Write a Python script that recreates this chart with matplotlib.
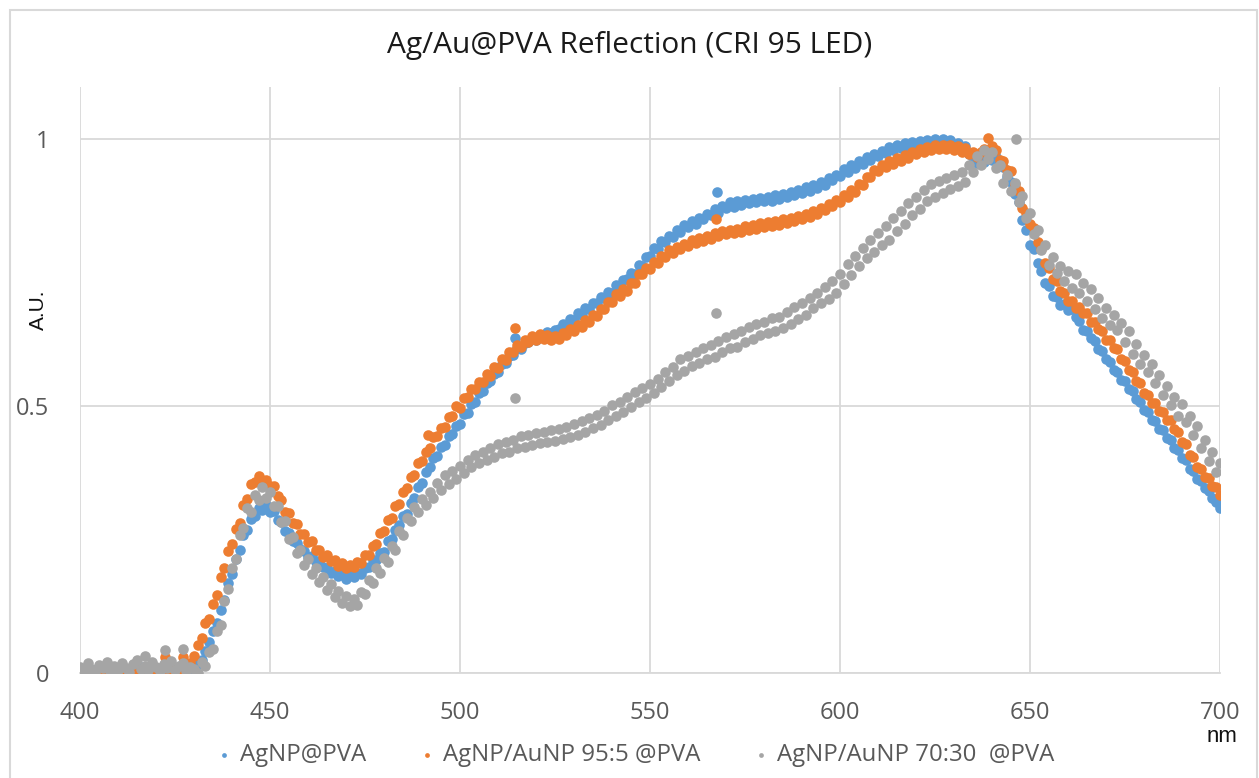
import matplotlib
matplotlib.use("Agg")
import matplotlib.pyplot as plt
import numpy as np
from matplotlib.patches import Rectangle

# ---------------- data ----------------
wavelength_start = 400
wavelength_end = 700

agnp = [
    0.008, 0.003, 0.010, 0.002, 0.006, 0.001, 0.009, 0.004, 0.000, 0.007,
    0.003, 0.010, 0.005, 0.001, 0.008, 0.004, 0.011, 0.002, 0.006, 0.003,
    0.009, 0.004, 0.001, 0.007, 0.012, 0.003, 0.008, 0.005, 0.010, 0.006,
    0.011, 0.016, 0.024, 0.042, 0.058, 0.079, 0.094, 0.118, 0.137, 0.168,
    0.186, 0.214, 0.231, 0.258, 0.268, 0.289, 0.293, 0.309, 0.306, 0.315,
    0.301, 0.304, 0.286, 0.283, 0.266, 0.262, 0.247, 0.243, 0.232, 0.228,
    0.218, 0.219, 0.207, 0.209, 0.198, 0.197, 0.188, 0.191, 0.181, 0.186,
    0.176, 0.184, 0.179, 0.188, 0.186, 0.196, 0.198, 0.211, 0.212, 0.224,
    0.227, 0.247, 0.251, 0.268, 0.277, 0.293, 0.298, 0.318, 0.327, 0.348,
    0.356, 0.377, 0.386, 0.402, 0.406, 0.423, 0.427, 0.444, 0.447, 0.463,
    0.466, 0.484, 0.486, 0.503, 0.507, 0.524, 0.527, 0.543, 0.546, 0.559,
    0.563, 0.578, 0.581, 0.593, 0.596, 0.608, 0.607, 0.617, 0.619, 0.627,
    0.624, 0.633, 0.629, 0.638, 0.636, 0.643, 0.644, 0.653, 0.652, 0.663,
    0.661, 0.673, 0.671, 0.683, 0.681, 0.693, 0.692, 0.704, 0.702, 0.714,
    0.711, 0.727, 0.722, 0.736, 0.738, 0.748, 0.747, 0.763, 0.762, 0.778,
    0.781, 0.795, 0.793, 0.808, 0.806, 0.818, 0.816, 0.829, 0.826, 0.838,
    0.835, 0.846, 0.841, 0.852, 0.849, 0.859, 0.857, 0.868, 0.862, 0.874,
    0.871, 0.881, 0.873, 0.884, 0.876, 0.886, 0.879, 0.887, 0.881, 0.889,
    0.883, 0.891, 0.884, 0.894, 0.887, 0.897, 0.891, 0.901, 0.895, 0.905,
    0.898, 0.909, 0.903, 0.914, 0.908, 0.919, 0.914, 0.926, 0.922, 0.933,
    0.930, 0.943, 0.938, 0.951, 0.946, 0.958, 0.953, 0.966, 0.961, 0.972,
    0.967, 0.978, 0.973, 0.984, 0.979, 0.989, 0.983, 0.992, 0.986, 0.994,
    0.989, 0.996, 0.991, 0.998, 0.992, 0.999, 0.994, 1.000, 0.993, 0.998,
    0.989, 0.993, 0.984, 0.986, 0.972, 0.966, 0.955, 0.958, 0.956, 0.963,
    0.961, 0.966, 0.955, 0.948, 0.928, 0.919, 0.897, 0.881, 0.848, 0.829,
    0.802, 0.793, 0.768, 0.752, 0.731, 0.724, 0.706, 0.703, 0.689, 0.691,
    0.679, 0.682, 0.666, 0.659, 0.643, 0.641, 0.627, 0.622, 0.607, 0.603,
    0.588, 0.583, 0.568, 0.564, 0.549, 0.546, 0.531, 0.527, 0.512, 0.508,
    0.492, 0.488, 0.474, 0.471, 0.457, 0.454, 0.439, 0.437, 0.421, 0.418,
    0.402, 0.398, 0.382, 0.379, 0.363, 0.359, 0.346, 0.341, 0.327, 0.321,
    0.308,
]

agau_95_5 = [
    0.002, 0.006, 0.000, 0.004, 0.001, 0.007, 0.003, 0.000, 0.005, 0.002,
    0.006, 0.001, 0.004, 0.000, 0.003, 0.007, 0.002, 0.005, 0.001, 0.004,
    0.000, 0.006, 0.003, 0.001, 0.005, 0.008, 0.002, 0.012, 0.006, 0.018,
    0.031, 0.052, 0.066, 0.094, 0.101, 0.129, 0.146, 0.179, 0.196, 0.229,
    0.241, 0.269, 0.281, 0.314, 0.326, 0.354, 0.357, 0.368, 0.359, 0.361,
    0.351, 0.351, 0.331, 0.324, 0.301, 0.299, 0.281, 0.279, 0.261, 0.260,
    0.246, 0.247, 0.231, 0.231, 0.218, 0.220, 0.209, 0.211, 0.201, 0.205,
    0.196, 0.203, 0.198, 0.208, 0.206, 0.221, 0.221, 0.238, 0.241, 0.262,
    0.266, 0.286, 0.291, 0.312, 0.316, 0.339, 0.346, 0.366, 0.371, 0.394,
    0.396, 0.414, 0.421, 0.441, 0.443, 0.459, 0.461, 0.479, 0.481, 0.499,
    0.496, 0.514, 0.516, 0.532, 0.531, 0.544, 0.544, 0.559, 0.556, 0.572,
    0.571, 0.587, 0.586, 0.601, 0.601, 0.614, 0.611, 0.624, 0.619, 0.630,
    0.624, 0.634, 0.626, 0.632, 0.623, 0.631, 0.626, 0.637, 0.633, 0.644,
    0.641, 0.652, 0.648, 0.661, 0.658, 0.671, 0.668, 0.682, 0.681, 0.694,
    0.694, 0.709, 0.706, 0.719, 0.716, 0.731, 0.731, 0.746, 0.746, 0.759,
    0.756, 0.769, 0.768, 0.781, 0.778, 0.791, 0.786, 0.797, 0.793, 0.804,
    0.799, 0.810, 0.805, 0.814, 0.808, 0.819, 0.813, 0.824, 0.818, 0.827,
    0.821, 0.830, 0.824, 0.832, 0.825, 0.836, 0.829, 0.839, 0.832, 0.842,
    0.835, 0.844, 0.837, 0.846, 0.839, 0.849, 0.843, 0.852, 0.846, 0.856,
    0.849, 0.859, 0.853, 0.864, 0.859, 0.870, 0.866, 0.878, 0.874, 0.886,
    0.882, 0.894, 0.891, 0.904, 0.901, 0.916, 0.914, 0.929, 0.928, 0.942,
    0.939, 0.951, 0.947, 0.958, 0.953, 0.964, 0.959, 0.970, 0.965, 0.976,
    0.971, 0.981, 0.975, 0.985, 0.979, 0.988, 0.981, 0.989, 0.981, 0.988,
    0.979, 0.986, 0.976, 0.982, 0.971, 0.976, 0.966, 0.975, 0.981, 1.002,
    0.986, 0.979, 0.961, 0.958, 0.941, 0.939, 0.916, 0.903, 0.871, 0.862,
    0.841, 0.833, 0.806, 0.793, 0.768, 0.758, 0.738, 0.733, 0.716, 0.711,
    0.696, 0.697, 0.684, 0.686, 0.674, 0.673, 0.658, 0.658, 0.644, 0.641,
    0.624, 0.623, 0.608, 0.606, 0.588, 0.585, 0.567, 0.563, 0.546, 0.543,
    0.524, 0.521, 0.506, 0.505, 0.490, 0.488, 0.474, 0.473, 0.456, 0.451,
    0.432, 0.428, 0.409, 0.405, 0.386, 0.382, 0.366, 0.365, 0.351, 0.348,
    0.334,
]

agau_70_30 = [
    0.012, 0.004, 0.018, 0.007, 0.000, 0.015, 0.009, 0.021, 0.003, 0.013,
    0.006, 0.019, 0.010, 0.002, 0.016, 0.024, 0.008, 0.014, 0.005, 0.020,
    0.011, 0.003, 0.017, 0.009, 0.022, 0.006, 0.014, 0.019, 0.004, 0.012,
    0.007, 0.000, 0.021, 0.013, 0.039, 0.044, 0.078, 0.089, 0.134, 0.158,
    0.197, 0.214, 0.258, 0.271, 0.309, 0.302, 0.333, 0.323, 0.348, 0.327,
    0.339, 0.313, 0.312, 0.282, 0.284, 0.251, 0.254, 0.224, 0.231, 0.203,
    0.213, 0.186, 0.196, 0.171, 0.180, 0.155, 0.166, 0.142, 0.153, 0.131,
    0.144, 0.125, 0.139, 0.128, 0.151, 0.148, 0.174, 0.168, 0.196, 0.188,
    0.216, 0.208, 0.237, 0.231, 0.266, 0.259, 0.291, 0.284, 0.311, 0.301,
    0.326, 0.314, 0.338, 0.327, 0.356, 0.343, 0.371, 0.354, 0.379, 0.364,
    0.387, 0.374, 0.399, 0.386, 0.409, 0.394, 0.414, 0.399, 0.421, 0.404,
    0.428, 0.411, 0.433, 0.414, 0.437, 0.421, 0.443, 0.424, 0.446, 0.427,
    0.449, 0.431, 0.451, 0.432, 0.455, 0.434, 0.457, 0.438, 0.461, 0.441,
    0.466, 0.446, 0.471, 0.452, 0.477, 0.459, 0.483, 0.465, 0.491, 0.474,
    0.501, 0.482, 0.508, 0.489, 0.517, 0.498, 0.526, 0.507, 0.533, 0.515,
    0.541, 0.524, 0.551, 0.536, 0.563, 0.546, 0.573, 0.557, 0.587, 0.566,
    0.594, 0.574, 0.601, 0.581, 0.609, 0.588, 0.614, 0.592, 0.622, 0.601,
    0.629, 0.608, 0.634, 0.611, 0.641, 0.619, 0.648, 0.626, 0.653, 0.632,
    0.658, 0.637, 0.664, 0.641, 0.667, 0.646, 0.676, 0.654, 0.686, 0.663,
    0.692, 0.671, 0.702, 0.683, 0.711, 0.693, 0.722, 0.701, 0.733, 0.712,
    0.747, 0.729, 0.766, 0.745, 0.781, 0.761, 0.796, 0.776, 0.811, 0.789,
    0.824, 0.801, 0.836, 0.811, 0.851, 0.827, 0.864, 0.841, 0.879, 0.857,
    0.891, 0.869, 0.904, 0.883, 0.915, 0.891, 0.921, 0.899, 0.927, 0.906,
    0.932, 0.911, 0.938, 0.919, 0.951, 0.937, 0.968, 0.951, 0.979, 0.962,
    0.976, 0.945, 0.951, 0.917, 0.933, 0.903, 0.917, 0.881, 0.893, 0.851,
    0.862, 0.822, 0.829, 0.792, 0.801, 0.764, 0.779, 0.748, 0.762, 0.733,
    0.753, 0.721, 0.746, 0.711, 0.731, 0.696, 0.718, 0.681, 0.702, 0.664,
    0.683, 0.651, 0.671, 0.642, 0.655, 0.619, 0.641, 0.597, 0.616, 0.579,
    0.596, 0.564, 0.579, 0.542, 0.557, 0.521, 0.538, 0.502, 0.516, 0.481,
    0.503, 0.469, 0.481, 0.445, 0.462, 0.421, 0.437, 0.397, 0.414, 0.376,
    0.394,
]

# isolated stray points visible in the reference
agnp_extra_x = [514.5, 567.6]
agnp_extra_y = [0.627, 0.900]
agau_95_5_extra_x = [422.4, 427.1, 491.6, 514.5, 567.3]
agau_95_5_extra_y = [0.030, 0.030, 0.446, 0.646, 0.850]
agau_70_30_extra_x = [417.0, 422.4, 427.1, 514.5, 567.3, 646.3]
agau_70_30_extra_y = [0.032, 0.043, 0.044, 0.515, 0.674, 1.000]

series_names = ["AgNP@PVA", "AgNP/AuNP 95:5 @PVA", "AgNP/AuNP 70:30  @PVA"]
x_ticks = [400, 450, 500, 550, 600, 650, 700]
y_ticks = [0, 0.5, 1]
y_tick_labels = ["0", "0.5", "1"]
title = "Ag/Au@PVA Reflection (CRI 95 LED)"

# ---------------- figure ----------------
colors = ["#5B9BD5", "#ED7D31", "#A5A5A5"]
W, H = 1259, 778
fig = plt.figure(figsize=(W / 100, H / 100), dpi=100)
ax = fig.add_axes([80 / W, 1 - 673 / H, (1220 - 80) / W, (673 - 87) / H])

wl = np.arange(wavelength_start, wavelength_end + 1)
all_series = [
    (agnp, agnp_extra_x, agnp_extra_y),
    (agau_95_5, agau_95_5_extra_x, agau_95_5_extra_y),
    (agau_70_30, agau_70_30_extra_x, agau_70_30_extra_y),
]
for (vals, ex, ey), c, name in zip(all_series, colors, series_names):
    xs = np.concatenate([wl, ex])
    ys = np.concatenate([vals, ey])
    ax.scatter(xs, ys, s=58, color=c, linewidths=0, label=name, zorder=3)

ax.set_xlim(400, 700)
ax.set_ylim(0, 1.097)
ax.set_xticks(x_ticks)
ax.set_yticks(y_ticks)
ax.set_yticklabels(y_tick_labels)
ax.grid(True, color="#D9D9D9", linewidth=1.3, zorder=0)
ax.set_axisbelow(True)
for s in ["top", "right", "left"]:
    ax.spines[s].set_visible(False)
ax.spines["bottom"].set_color("#D9D9D9")
ax.spines["bottom"].set_linewidth(1.3)
ax.tick_params(axis="both", length=0, labelcolor="#595959", labelsize=17)
ax.tick_params(axis="x", pad=20)
ax.tick_params(axis="y", pad=22)
for lab in ax.get_xticklabels() + ax.get_yticklabels():
    lab.set_fontfamily("Open Sans")

fig.text(630 / W, 1 - 45 / H, title, ha="center", va="center",
         fontsize=21.5, family="Open Sans", color="#1A1A1A")
fig.text(38 / W, 1 - 310 / H, "A.U.", rotation=90, ha="center", va="center",
         fontsize=15, family="Liberation Sans", color="#111111")
fig.text(1222 / W, 1 - 737 / H, "nm", ha="center", va="center",
         fontsize=16, family="Liberation Sans", color="#111111")

leg = fig.legend(loc="center", bbox_to_anchor=(636 / W, 1 - 755 / H), ncol=3,
                 frameon=False, handlelength=0.5, handletextpad=0.4,
                 columnspacing=2.3, markerscale=0.45,
                 prop={"family": "Open Sans", "size": 17.3})
for t in leg.get_texts():
    t.set_color("#595959")

fig.patches.append(Rectangle((10 / W, -0.05), (1257 - 10) / W, 1 - 10 / H + 0.05,
                             transform=fig.transFigure, fill=False,
                             edgecolor="#D9D9D9", linewidth=1.5))

fig.savefig("out.png", dpi=100)
